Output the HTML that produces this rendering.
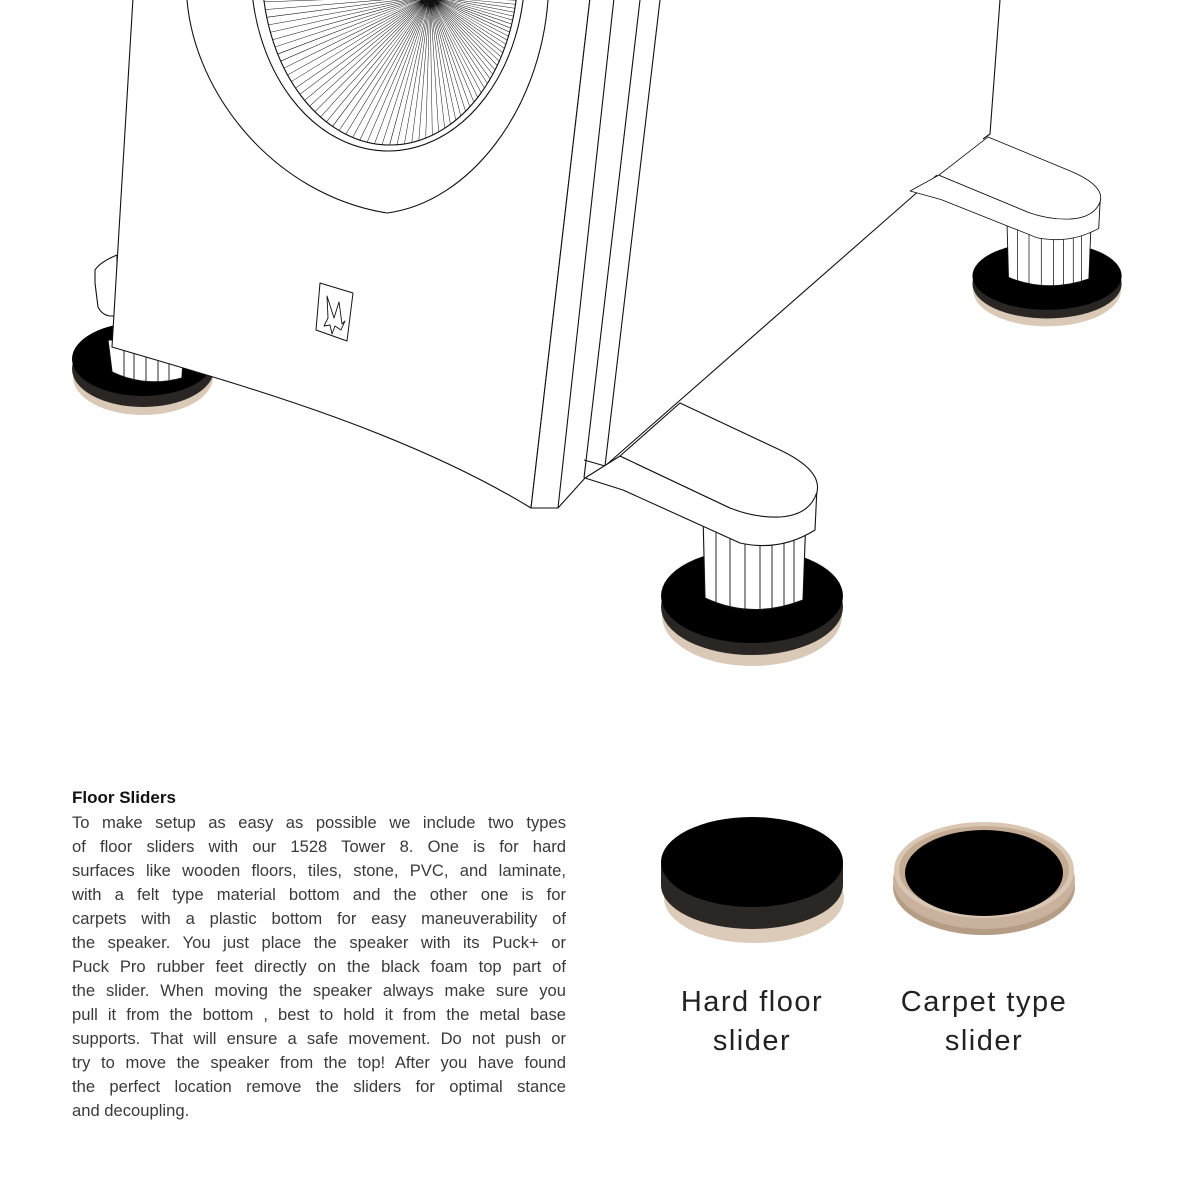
<!DOCTYPE html>
<html><head><meta charset="utf-8"><style>
html,body{margin:0;padding:0;background:#fff}
#w{position:relative;width:1190px;height:1190px;overflow:hidden;background:#fff}
svg{position:absolute;left:0;top:0}
.t{position:absolute;left:72px;width:494px;font-family:"Liberation Sans",sans-serif;font-size:16.6px;color:#3a3a3a;line-height:24px}
.t div{text-align:justify;text-align-last:justify;white-space:nowrap;overflow:visible}
.t div.l{text-align-last:left}
.h{position:absolute;left:72px;top:788px;font-family:"Liberation Sans",sans-serif;font-weight:bold;font-size:17px;color:#111}
.lab{position:absolute;width:260px;text-align:center;font-family:"Liberation Sans",sans-serif;font-size:29px;line-height:39px;color:#222;letter-spacing:1.5px}
</style></head><body><div id="w">
<svg width="1190" height="1190" viewBox="0 0 1190 1190" fill="none" stroke="#111" stroke-width="1.1" stroke-linejoin="round">
<defs>
<clipPath id="cone"><ellipse cx="390" cy="-30" rx="128" ry="175"/></clipPath>
<g id="foot">
  <ellipse cx="752" cy="616" rx="90" ry="50" fill="#d9c9b6" stroke="none"/>
  <ellipse cx="752" cy="607" rx="91" ry="48" fill="#2a2624" stroke="none"/>
  <ellipse cx="752" cy="596" rx="91" ry="47" fill="#000" stroke="none"/>
  <path d="M703,515 L705,598 Q752,620 803,600 L806,515 Z" fill="#fff"/>
  <g stroke-width="0.9">
    <line x1="716" y1="520" x2="716" y2="605"/><line x1="730" y1="520" x2="730" y2="610"/>
    <line x1="745" y1="520" x2="745" y2="613"/><line x1="760" y1="520" x2="760" y2="613"/>
    <line x1="772" y1="520" x2="772" y2="611"/><line x1="784" y1="520" x2="784" y2="608"/>
    <line x1="794" y1="520" x2="794" y2="604"/>
  </g>
  <path d="M585,478 L623,490 L740,543 Q780,552 815,530 L817,487 L780,517 L730,508 L620,456 Z" fill="#fff"/>
  <path d="M620,456 L680,403 L780,450 Q822,470 817,492 Q810,515 780,517 Q755,518 730,508 Z" fill="#fff"/>
</g>
</defs>

<!-- left puck & column -->
<ellipse cx="143" cy="377" rx="70" ry="38" fill="#d9c9b6" stroke="none"/>
<ellipse cx="143" cy="369" rx="71" ry="38" fill="#2a2624" stroke="none"/>
<ellipse cx="143" cy="359" rx="71" ry="37" fill="#000" stroke="none"/>
<path d="M108,340 L112,372 Q145,388 182,378 L184,340 Z" fill="#fff"/>
<g stroke-width="0.9"><line x1="124" y1="350" x2="124" y2="378"/><line x1="134" y1="352" x2="134" y2="381"/><line x1="146" y1="354" x2="146" y2="382"/><line x1="158" y1="356" x2="158" y2="382"/><line x1="169" y1="358" x2="169" y2="380"/></g>
<path d="M117,255 Q100,262 95,270 L95,283 L98,307 Q102,315 110,316 L117,316 Z" fill="#fff"/>

<!-- main front face -->
<path d="M133,-2 L112,347 C230,382 400,428 531,508 L590,-2 Z" fill="#fff" stroke="none"/>
<path d="M133,-2 L112,347 C230,382 400,428 531,508 L590,-2"/>
<path d="M187,0 C195,95 275,195 387,213 C470,202 540,110 548,0" />
<ellipse cx="388" cy="-30" rx="137" ry="181"/>
<ellipse cx="390" cy="-30" rx="128" ry="175"/>
<g clip-path="url(#cone)">
  <circle cx="430" cy="-4" r="100" stroke="#111" stroke-width="200" stroke-dasharray="0.5 4.2"/>
</g>
<path d="M320,283 L353,293 L347,341 L316,330 Z" stroke-width="1"/>
<path d="M327,296 L334,318 L339,302 L342,324 L345,321 L341,330 L335,326 L332,334 L330,325 L324,326 L328,318 Z" stroke-width="0.9"/>

<!-- strips -->
<path d="M590,-2 L531,508 L558,508 L614,-2 Z" fill="#fff" stroke="none"/>
<path d="M590,-2 L531,508 L558,508 L614,-2"/>
<path d="M558,508 L585,478" />
<line x1="640" y1="0" x2="584" y2="478"/>
<line x1="660" y1="0" x2="605" y2="466"/>
<line x1="584" y1="460" x2="605" y2="466"/>
<line x1="1000" y1="0" x2="990" y2="134"/>
<line x1="990" y1="134" x2="983" y2="139"/>
<line x1="605" y1="466" x2="937" y2="175"/>

<g transform="translate(988 137) scale(0.82 0.72) translate(-680 -403)">
  <g style="vector-effect:non-scaling-stroke"><use href="#foot"/></g>
</g>
<use href="#foot"/>

<!-- hard floor slider -->
<ellipse cx="754" cy="898" rx="90" ry="45" fill="#dccbb8" stroke="none"/>
<ellipse cx="752" cy="885" rx="91" ry="44" fill="#2b2725" stroke="none"/>
<rect x="661" y="862" width="182" height="23" fill="#2b2725" stroke="none"/>
<ellipse cx="752" cy="862" rx="91" ry="45" fill="#000" stroke="none"/>

<!-- carpet slider -->
<ellipse cx="984" cy="887" rx="91" ry="48" fill="#b59c85" stroke="none"/>
<ellipse cx="984" cy="880" rx="91" ry="49" fill="#c8b29d" stroke="none"/>
<ellipse cx="984" cy="870" rx="90" ry="48" fill="#d9c7b4" stroke="none"/>
<ellipse cx="984" cy="870" rx="85" ry="44" fill="#c3ab94" stroke="none"/>
<ellipse cx="984" cy="873" rx="79" ry="43" fill="#000" stroke="none"/>
</svg>

<div class="h">Floor Sliders</div>
<div class="t" style="top:811px">
<div>To make setup as easy as possible we include two types</div>
<div>of floor sliders with our 1528 Tower 8. One is for hard</div>
<div>surfaces like wooden floors, tiles, stone, PVC, and laminate,</div>
<div>with a felt type material bottom and the other one is for</div>
<div>carpets with a plastic bottom for easy maneuverability of</div>
<div>the speaker. You just place the speaker with its Puck+ or</div>
<div>Puck Pro rubber feet directly on the black foam top part of</div>
<div>the slider. When moving the speaker always make sure you</div>
<div>pull it from the bottom , best to hold it from the metal base</div>
<div>supports. That will ensure a safe movement. Do not push or</div>
<div>try to move the speaker from the top! After you have found</div>
<div>the perfect location remove the sliders for optimal stance</div>
<div class="l">and decoupling.</div>
</div>
<div class="lab" style="left:622px;top:983px">Hard floor<br>slider</div>
<div class="lab" style="left:854px;top:983px">Carpet type<br>slider</div>
</div></body></html>
